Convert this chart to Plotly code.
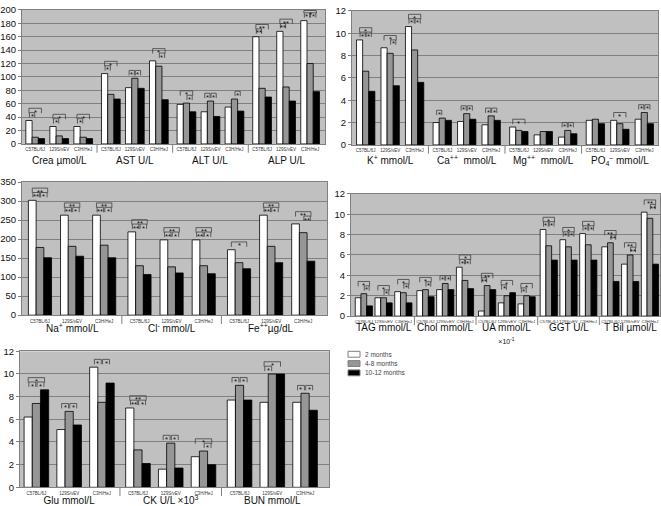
import plotly.graph_objects as go

W, H = 661, 506
FONT = "Liberation Sans, Arial, sans-serif"

STRAINS = ["C57BL/6J", "129S/vEV", "C3H/HeJ"]
SERIES = ["2 months", "4-8 months", "10-12 months"]
SERIES_COLORS = ["#FFFFFF", "#969696", "#000000"]

# ---- Panel A (top-left) ----
A_GROUPS = ["Crea µmol/L", "AST U/L", "ALT U/L", "ALP U/L"]
A_2M = [35, 26, 26, 105, 84, 124, 59, 48, 55, 160, 168, 184]
A_48M = [10, 12, 10, 74, 98, 116, 61, 64, 67, 83, 85, 120]
A_1012M = [8, 8, 8, 67, 83, 66, 48, 41, 49, 70, 64, 78]
A_SIG = [(0, 0, 1, "*"), (0, 0, 2, "*"), (1, 0, 1, "*"), (1, 0, 2, "*"),
         (2, 0, 1, "*"), (2, 0, 2, "*"), (3, 0, 1, "*"), (3, 0, 2, "*"),
         (4, 0, 1, "*"), (4, 1, 2, "*"), (5, 1, 2, "*"), (5, 0, 2, "*"),
         (6, 1, 2, "*"), (6, 0, 2, "*"), (7, 0, 1, "*"), (7, 1, 2, "*"),
         (8, 1, 2, "*"), (9, 0, 1, "**"), (9, 0, 2, "**"),
         (10, 0, 1, "**"), (10, 0, 2, "**"),
         (11, 0, 1, "*"), (11, 1, 2, "*"), (11, 0, 2, "*")]

# ---- Panel B (top-right) ----
B_GROUPS = ["K<sup>+</sup> mmol/L", "Ca<sup>++</sup>  mmol/L", "Mg<sup>++</sup>  mmol/L",
            "PO<sub>4</sub><sup>–</sup> mmol/L"]
B_2M = [9.4, 8.7, 10.6, 2.0, 2.1, 1.8, 1.6, 0.9, 0.7, 2.2, 2.2, 2.3]
B_48M = [6.6, 8.2, 8.5, 2.4, 2.8, 2.6, 1.3, 1.2, 1.3, 2.3, 1.9, 2.9]
B_1012M = [4.8, 5.3, 5.6, 2.2, 2.3, 2.2, 1.2, 1.2, 1.0, 1.9, 1.4, 1.9]
B_SIG = [(0, 0, 1, "*"), (0, 1, 2, "*"), (0, 0, 2, "*"),
         (1, 1, 2, "*"), (1, 0, 2, "*"),
         (2, 0, 1, "*"), (2, 1, 2, "*"), (2, 0, 2, "*"),
         (3, 0, 1, "*"), (4, 0, 1, "*"), (4, 1, 2, "*"),
         (5, 0, 1, "*"), (5, 1, 2, "*"), (6, 0, 2, "*"),
         (8, 0, 1, "*"), (8, 1, 2, "*"), (10, 0, 2, "*"),
         (11, 0, 1, "*"), (11, 1, 2, "*")]

# ---- Panel C (middle-left) ----
C_GROUPS = ["Na<sup>+</sup> mmol/L", "Cl<sup>-</sup> mmol/L", "Fe<sup>++</sup>µg/dL"]
C_2M = [302, 263, 263, 219, 198, 198, 172, 263, 240]
C_48M = [178, 181, 184, 130, 127, 130, 138, 181, 217]
C_1012M = [151, 155, 151, 107, 111, 109, 122, 138, 142]
C_SIG = []
for _c in [0, 1, 2, 3, 4, 5, 7]:
    C_SIG += [(_c, 0, 1, "**"), (_c, 1, 2, "*"), (_c, 0, 2, "**")]
C_SIG += [(6, 0, 2, "*"), (8, 1, 2, "**"), (8, 0, 2, "**")]

# ---- Panel D (middle-right) ----
D_GROUPS = ["TAG mmol/L", "Chol mmol/L", "UA mmol/L<br><span style='font-size:7px'>×10<sup>-1</sup></span>",
            "GGT U/L", "T Bil µmol/L"]
D_2M = [1.8, 1.8, 2.4, 2.5, 2.6, 4.8, 0.5, 1.3, 1.2, 8.5, 7.5, 8.1, 6.8, 5.1, 10.2]
D_48M = [2.2, 1.8, 2.3, 2.6, 3.2, 3.5, 3.0, 2.0, 2.0, 6.9, 6.8, 7.0, 7.2, 6.0, 9.6]
D_1012M = [1.0, 1.3, 1.3, 1.9, 2.6, 2.7, 2.6, 2.3, 1.9, 5.5, 5.5, 5.5, 3.4, 3.4, 5.1]
D_SIG = [(0, 1, 2, "*"), (0, 0, 2, "*"), (1, 1, 2, "*"), (1, 0, 2, "*"),
         (2, 1, 2, "*"), (2, 0, 2, "*"), (3, 1, 2, "*"), (3, 0, 2, "*"),
         (4, 0, 1, "*"), (4, 1, 2, "*"),
         (5, 0, 1, "*"), (5, 1, 2, "*"), (5, 0, 2, "*"),
         (6, 0, 1, "**"), (6, 0, 2, "**"), (7, 0, 1, "*"), (7, 0, 2, "*"),
         (8, 0, 1, "*"), (8, 0, 2, "*"),
         (9, 0, 1, "*"), (9, 1, 2, "*"), (9, 0, 2, "*"),
         (10, 0, 1, "*"), (10, 1, 2, "*"), (10, 0, 2, "*"),
         (11, 0, 1, "*"), (11, 1, 2, "*"), (11, 0, 2, "*"),
         (12, 1, 2, "**"), (12, 0, 2, "**"), (13, 1, 2, "**"), (13, 0, 2, "**"),
         (14, 1, 2, "**"), (14, 0, 2, "**")]

# ---- Panel E (bottom-left) ----
E_GROUPS = ["Glu mmol/L", "CK U/L ×10<sup>3</sup>", "BUN mmol/L"]
E_2M = [6.2, 5.1, 10.6, 7.0, 1.6, 2.7, 7.7, 7.5, 7.5]
E_48M = [7.4, 6.7, 7.5, 3.3, 3.9, 3.2, 9.0, 10.0, 8.3]
E_1012M = [8.6, 5.5, 9.2, 2.1, 1.7, 2.0, 7.7, 10.0, 6.8]
E_SIG = [(0, 0, 1, "*"), (0, 1, 2, "*"), (0, 0, 2, "*"),
         (1, 0, 1, "*"), (1, 1, 2, "*"), (2, 0, 1, "*"), (2, 1, 2, "*"),
         (3, 0, 1, "**"), (3, 1, 2, "*"), (3, 0, 2, "**"),
         (4, 0, 1, "*"), (4, 1, 2, "*"), (5, 1, 2, "*"), (5, 0, 2, "*"),
         (6, 0, 1, "*"), (6, 1, 2, "*"), (7, 0, 1, "*"), (7, 0, 2, "*"),
         (8, 0, 1, "*"), (8, 1, 2, "*")]

PANELS = [
    dict(groups=A_GROUPS, series=[A_2M, A_48M, A_1012M], sig=A_SIG, ymax=200, dtick=20,
         box=(22, 325, 4, 141), xrange=(-0.55, 12.07), gap=0.15, bw=0.26, label_y=157.5,
         strain_font=4.5),
    dict(groups=B_GROUPS, series=[B_2M, B_48M, B_1012M], sig=B_SIG, ymax=12, dtick=2,
         box=(352, 658, 5, 142), xrange=(-0.56, 11.95), gap=0.13, bw=0.25, label_y=157.5,
         strain_font=4.5),
    dict(groups=C_GROUPS, series=[C_2M, C_48M, C_1012M], sig=C_SIG, ymax=350, dtick=50,
         box=(22, 327, 180, 316), xrange=(-0.56, 8.94), gap=0.1, bw=0.24, label_y=329,
         strain_font=4.5),
    dict(groups=D_GROUPS, series=[D_2M, D_48M, D_1012M], sig=D_SIG, ymax=12, dtick=2,
         box=(351, 660, 192, 317), xrange=(-0.65, 14.99), gap=0.12, bw=0.29, label_y=329,
         strain_font=4.2),
    dict(groups=E_GROUPS, series=[E_2M, E_48M, E_1012M], sig=E_SIG, ymax=12, dtick=2,
         box=(20, 329, 353, 492), xrange=(-0.5, 8.93), gap=0.1, bw=0.25, label_y=None,
         strain_font=4.5),
]

fig = go.Figure()
shapes, annotations, layout_axes = [], [], {}
extra_axis = 6

for k, p in enumerate(PANELS, start=1):
    sfx = "" if k == 1 else str(k)
    xa, ya = "x" + sfx, "y" + sfx
    n = len(p["groups"]) * 3
    pos = [(c // 3) * (3 + p["gap"]) + c % 3 for c in range(n)]
    bw = p["bw"]
    for s in range(3):
        fig.add_trace(go.Bar(
            x=[q + (s - 1) * bw for q in pos], y=p["series"][s], width=bw,
            xaxis=xa, yaxis=ya, name=SERIES[s], showlegend=False,
            marker=dict(color=SERIES_COLORS[s], line=dict(color="#000000", width=0.8)),
        ))
    x0, x1, t, b = p["box"]
    layout_axes["xaxis" + sfx] = dict(
        domain=[x0 / W, x1 / W], anchor=ya, range=list(p["xrange"]),
        showgrid=False, zeroline=False, showline=True, linecolor="#808080", linewidth=1,
        mirror=True, ticks="outside", ticklen=1, tickcolor="rgba(0,0,0,0)",
        tickvals=pos, ticktext=STRAINS * len(p["groups"]),
        tickfont=dict(size=p["strain_font"], color="#333333", family=FONT), tickangle=0,
    )
    layout_axes["yaxis" + sfx] = dict(
        domain=[1 - b / H, 1 - t / H], anchor=xa, range=[0, p["ymax"]], dtick=p["dtick"],
        showgrid=True, gridcolor="#808080", gridwidth=1, zeroline=False,
        showline=True, linecolor="#808080", linewidth=1, mirror=True,
        ticks="outside", ticklen=3, tickcolor="#808080",
        tickfont=dict(size=9.5, color="#111111", family=FONT),
    )
    centers = [pos[g * 3 + 1] for g in range(len(p["groups"]))]
    if p["label_y"] is None:
        # group labels as a second (overlaying) axis so they can sit at the page edge
        ex = "x" + str(extra_axis)
        fig.add_trace(go.Scatter(x=[], y=[], xaxis=ex, yaxis=ya, showlegend=False))
        layout_axes["xaxis" + str(extra_axis)] = dict(
            overlaying=xa, anchor=ya, side="bottom", range=list(p["xrange"]),
            showgrid=False, zeroline=False, showline=False, ticks="",
            tickvals=centers, ticktext=p["groups"], ticklabelstandoff=6,
            tickfont=dict(size=10, color="#111111", family=FONT), tickangle=0,
        )
    else:
        for g, name in enumerate(p["groups"]):
            multi = "<br>" in name
            annotations.append(dict(
                xref=xa, yref="paper", x=centers[g],
                y=1 - ((p["label_y"] - 6.5) if multi else p["label_y"]) / H,
                yanchor="top" if multi else "middle", xanchor="center", text=name,
                showarrow=False, borderpad=0,
                font=dict(size=10, color="#111111", family=FONT),
            ))
    # group dividers below the axis
    for g in range(1, len(p["groups"])):
        xd = pos[g * 3 - 1] + 0.5 + p["gap"] / 2
        shapes.append(dict(type="line", xref=xa, yref="paper", x0=xd, x1=xd,
                           y0=1 - b / H, y1=1 - (b + 9) / H,
                           line=dict(color="#808080", width=1)))
    # significance brackets
    unit = p["ymax"] / (b - t)
    has_adj = {}
    for (c, i, j, lab) in p["sig"]:
        if j - i == 1:
            has_adj[c] = True
    for (c, i, j, lab) in p["sig"]:
        top = max(p["series"][s][c] for s in range(3))
        level = 1 if (j - i == 2 and has_adj.get(c)) else 0
        y_leg = top + (3 + level * 4.5) * unit
        y_line = min(top + (8 + level * 4.5) * unit, p["ymax"] - 0.6 * unit)
        inset = 0.08 * bw if j - i == 1 else 0.0
        xi = pos[c] + (i - 1) * bw + inset
        xj = pos[c] + (j - 1) * bw - inset
        shapes.append(dict(
            type="path", xref=xa, yref=ya,
            path=f"M {xi},{y_leg} L {xi},{y_line} L {xj},{y_line} L {xj},{y_leg}",
            line=dict(color="#404040", width=0.8),
        ))
        annotations.append(dict(
            xref=xa, yref=ya, x=(xi + xj) / 2, y=y_line, yanchor="top", xanchor="center",
            text=lab, showarrow=False, borderpad=0, yshift=1.5,
            font=dict(size=7.5, color="#111111", family=FONT),
        ))

# manual legend
LEG_X, LEG_Y0, LEG_DY = 348, 356, 9.5
for s, name in enumerate(SERIES):
    yc = LEG_Y0 + s * LEG_DY
    shapes.append(dict(type="rect", xref="paper", yref="paper",
                       x0=LEG_X / W, x1=(LEG_X + 12) / W,
                       y0=1 - (yc - 3) / H, y1=1 - (yc + 3) / H,
                       fillcolor=SERIES_COLORS[s], line=dict(color="#808080", width=1)))
    annotations.append(dict(xref="paper", yref="paper", x=(LEG_X + 16) / W, y=1 - yc / H,
                            xanchor="left", yanchor="middle", text=name, showarrow=False,
                            borderpad=0, font=dict(size=6.5, color="#444444", family=FONT)))

fig.update_layout(
    width=W, height=H, margin=dict(l=0, r=0, t=0, b=0),
    paper_bgcolor="#FFFFFF", plot_bgcolor="#C0C0C0",
    barmode="overlay", showlegend=False,
    font=dict(family=FONT),
    shapes=shapes, annotations=annotations, **layout_axes,
)

fig.write_html("out.html", config={"displayModeBar": False},
               post_script="document.body.style.margin='0';")
